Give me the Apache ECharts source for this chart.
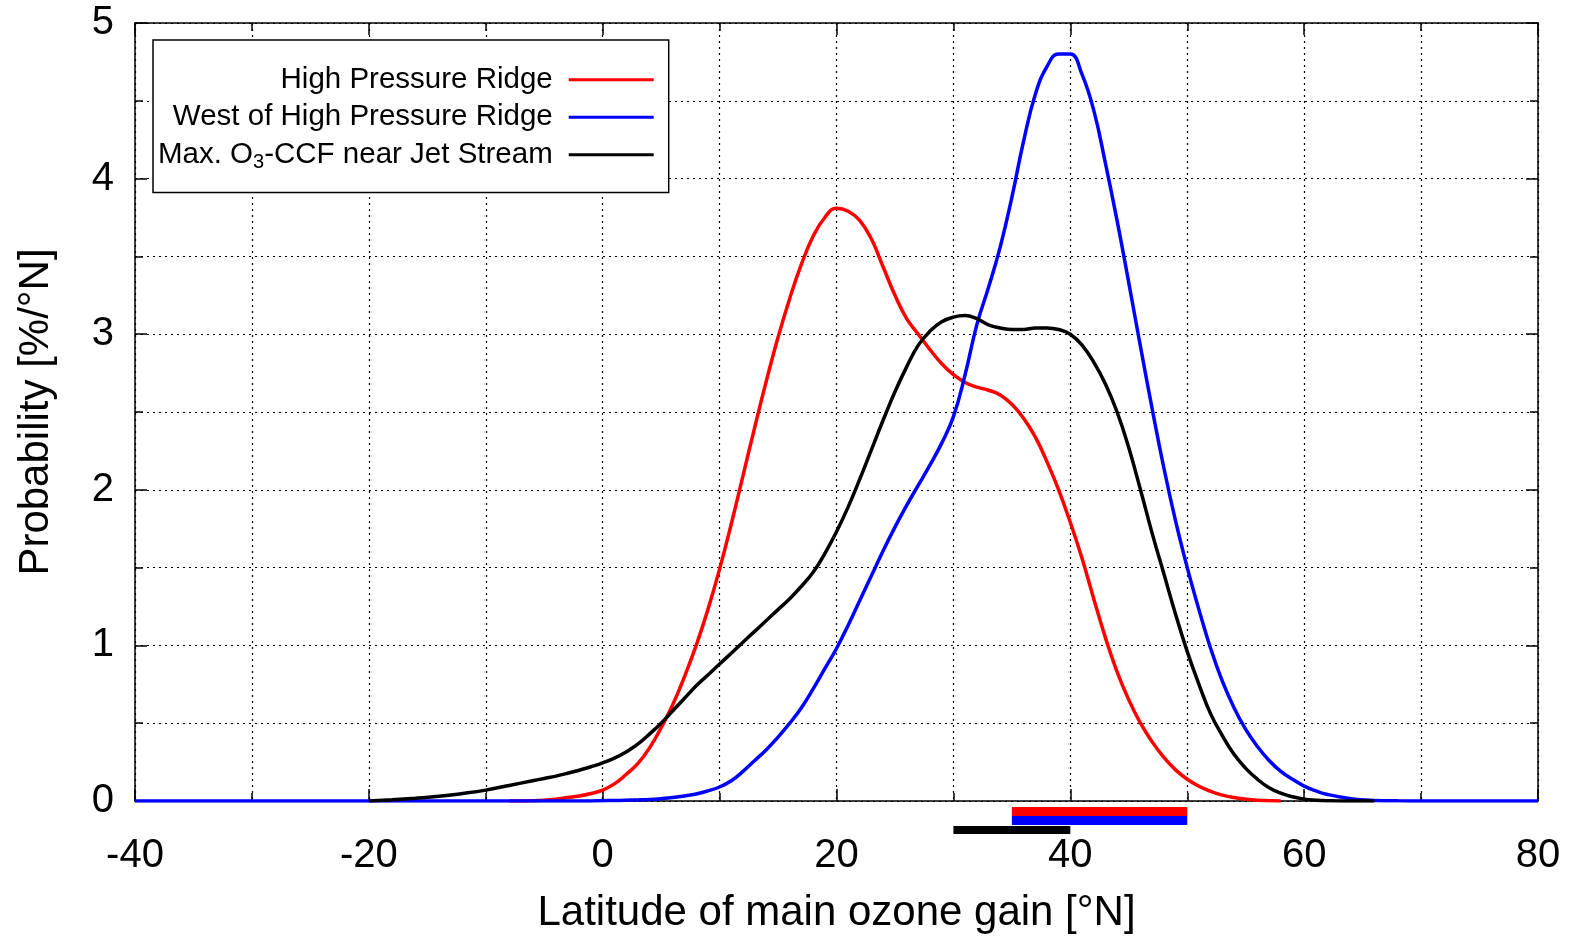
<!DOCTYPE html>
<html>
<head>
<meta charset="utf-8">
<script src="https://cdn.jsdelivr.net/npm/echarts@6/dist/echarts.min.js"></script>
<style>
  html, body { margin: 0; padding: 0; background: #fff; }
  #chart { width: 1576px; height: 936px; }
</style>
</head>
<body>
<div id="chart"></div>
<script>
// Latitude samples (degrees N) shared by the three probability curves
const latitude = [
  -40, -30, -24, -20, -18, -16, -14, -12, -10, -8, -6,
  -5, -4, -3, -2, -1, 0, 1, 2, 3, 4,
  5, 6, 7, 8, 9, 10, 11, 12, 13, 14,
  15, 16, 17, 18, 19, 20, 21, 22, 23, 24,
  25, 26, 27, 28, 29, 30, 31, 32, 33, 34,
  35, 36, 37, 38, 39, 40, 41, 42, 43, 44,
  45, 46, 47, 48, 49, 50, 51, 52, 53, 54,
  55, 56, 57, 58, 59, 60, 61, 62,
  64, 66, 68, 70, 80
];

// Probability [%/°N] — High Pressure Ridge
const highPressureRidge = [
  null, null, null, null, null, null, null, null, null, 0, 0.002,
  0.005, 0.012, 0.022, 0.032, 0.048, 0.07, 0.11, 0.17, 0.24, 0.34,
  0.47, 0.62, 0.8, 1.0, 1.23, 1.49, 1.78, 2.09, 2.4, 2.7,
  2.98, 3.23, 3.45, 3.63, 3.75, 3.81, 3.79, 3.73, 3.61, 3.43,
  3.25, 3.1, 3.0, 2.9, 2.81, 2.74, 2.69, 2.66, 2.64, 2.61,
  2.55, 2.46, 2.34, 2.18, 2.0, 1.79, 1.56, 1.3, 1.05, 0.83,
  0.65, 0.5, 0.38, 0.28, 0.2, 0.14, 0.095, 0.062, 0.038, 0.022,
  0.012, 0.005, 0.002, 0, null, null, null, null,
  null, null, null, null, null
];

// Probability [%/°N] — West of High Pressure Ridge
const westOfRidge = [
  0, 0, 0, 0, 0, 0, 0, 0, 0, 0, 0,
  0, 0, 0, 0, 0, 0.002, 0.003, 0.005, 0.007, 0.01,
  0.015, 0.022, 0.032, 0.045, 0.065, 0.09, 0.13, 0.19, 0.26, 0.33,
  0.41, 0.5, 0.6, 0.72, 0.85, 0.98, 1.13, 1.29, 1.45, 1.61,
  1.76, 1.9, 2.03, 2.16, 2.3, 2.47, 2.74, 3.06, 3.3, 3.56,
  3.88, 4.24, 4.54, 4.72, 4.8, 4.8, 4.67, 4.44, 4.1, 3.73,
  3.33, 2.92, 2.52, 2.14, 1.8, 1.5, 1.23, 0.98, 0.77, 0.6,
  0.46, 0.35, 0.26, 0.19, 0.14, 0.096, 0.065, 0.042,
  0.015, 0.004, 0.001, 0, 0
];

// Probability [%/°N] — maximum O3-CCF near the jet stream
const jetStreamMax = [
  null, null, null, 0, 0.008, 0.018, 0.03, 0.048, 0.07, 0.1, 0.13,
  0.145, 0.16, 0.178, 0.198, 0.22, 0.245, 0.275, 0.315, 0.365, 0.43,
  0.5, 0.58, 0.66, 0.74, 0.81, 0.88, 0.95, 1.02, 1.09, 1.16,
  1.23, 1.3, 1.38, 1.47, 1.59, 1.73, 1.89, 2.07, 2.26, 2.45,
  2.63, 2.79, 2.93, 3.02, 3.08, 3.11, 3.12, 3.1, 3.06, 3.04,
  3.03, 3.03, 3.04, 3.04, 3.03, 3.0, 2.93, 2.82, 2.68, 2.5,
  2.27, 2.0, 1.72, 1.46, 1.2, 0.96, 0.75, 0.56, 0.42, 0.3,
  0.21, 0.14, 0.085, 0.05, 0.027, 0.012, 0.005, 0.002,
  0, 0, null, null, null
];

const seriesNames = ['High Pressure Ridge', 'West of High Pressure Ridge', 'Max. O3-CCF near Jet Stream'];
const seriesColors = ['#ff0000', '#0000ff', '#000000'];
const seriesValues = [highPressureRidge, westOfRidge, jetStreamMax];

// Latitude bands marked beneath the axis [from, to] in °N, same order as the curves
const latitudeBands = [[35, 50], [35, 50], [30, 40]];

const FONT = '"Liberation Sans", Arial, Helvetica, sans-serif';
const gridDash = { color: '#000', width: 1.2, type: [2, 4] };
const frameLine = { color: '#000', width: 1.5 };

const chart = echarts.init(document.getElementById('chart'), null, { renderer: 'canvas' });

const lineSeries = seriesNames.map((name, i) => ({
  name,
  type: 'line',
  data: latitude.map((x, k) => [x, seriesValues[i][k]]),
  showSymbol: false,
  smooth: 0.45,
  connectNulls: false,
  lineStyle: { color: seriesColors[i], width: 3.5 },
  itemStyle: { color: seriesColors[i] },
  emphasis: { disabled: true },
  z: 3
}));

// band offsets/thicknesses below the x axis, in pixels
const bandOffset = [6, 15, 25];
const bandHeight = [9, 9, 8];

const bandSeries = {
  type: 'custom',
  silent: true,
  clip: false,
  z: 4,
  data: latitudeBands.map((b, i) => [b[0], b[1], i]),
  encode: { x: [0, 1] },
  renderItem(params, api) {
    const i = api.value(2);
    const a = api.coord([api.value(0), 0]);
    const b = api.coord([api.value(1), 0]);
    return {
      type: 'rect',
      shape: { x: a[0], y: a[1] + bandOffset[i], width: b[0] - a[0], height: bandHeight[i] },
      style: { fill: seriesColors[i] }
    };
  }
};

function frameAxis(extra) {
  return Object.assign({
    type: 'value',
    axisLine: { show: true, onZero: false, lineStyle: frameLine },
    axisTick: { show: true, inside: true, length: 12, lineStyle: frameLine },
    minorTick: { show: true, splitNumber: 2, length: 8, lineStyle: frameLine }
  }, extra);
}

const option = {
  backgroundColor: '#fff',
  animation: false,
  textStyle: { fontFamily: FONT },
  grid: { left: 135, right: 38, top: 23, bottom: 135, outerBoundsMode: 'none', containLabel: false },
  legend: {
    left: 153,
    top: 40,
    orient: 'vertical',
    align: 'right',
    padding: [21, 15, 19, 5],
    itemGap: 0,
    itemWidth: 85,
    itemHeight: 3,
    backgroundColor: '#fff',
    borderColor: '#000',
    borderWidth: 1.5,
    borderRadius: 0,
    selectedMode: false,
    data: seriesNames.map(n => ({ name: n, icon: 'rect' })),
    formatter: name => name.replace('O3', 'O{sub|3}'),
    textStyle: {
      fontFamily: FONT,
      fontSize: 29.5,
      color: '#000',
      lineHeight: 37.5,
      padding: [0, 11, 0, 0],
      rich: {
        sub: { fontFamily: FONT, fontSize: 20, lineHeight: 20, padding: [16, 0, 0, 0], color: '#000' }
      }
    }
  },
  xAxis: [
    frameAxis({
      min: -40, max: 80, interval: 20,
      name: 'Latitude of main ozone gain [°N]',
      nameLocation: 'middle',
      nameGap: 91,
      nameTextStyle: { fontFamily: FONT, fontSize: 42, color: '#000' },
      axisLabel: { fontFamily: FONT, fontSize: 40, color: '#000', margin: 35, showMinLabel: true, showMaxLabel: true, hideOverlap: false },
      splitLine: { show: true, lineStyle: gridDash },
      minorSplitLine: { show: true, lineStyle: gridDash }
    }),
    frameAxis({
      position: 'top',
      min: -40, max: 80, interval: 20,
      axisLabel: { show: false },
      splitLine: { show: false }
    })
  ],
  yAxis: [
    frameAxis({
      min: 0, max: 5, interval: 1,
      name: 'Probability [%/°N]',
      nameLocation: 'middle',
      nameGap: 78,
      nameTextStyle: { fontFamily: FONT, fontSize: 42, color: '#000' },
      axisLabel: { fontFamily: FONT, fontSize: 40, color: '#000', margin: 21, showMinLabel: true, showMaxLabel: true, hideOverlap: false },
      splitLine: { show: true, lineStyle: gridDash },
      minorSplitLine: { show: true, lineStyle: gridDash }
    }),
    frameAxis({
      position: 'right',
      min: 0, max: 5, interval: 1,
      axisLabel: { show: false },
      splitLine: { show: false }
    })
  ],
  series: [...lineSeries, bandSeries]
};

chart.setOption(option);
</script>
</body>
</html>
